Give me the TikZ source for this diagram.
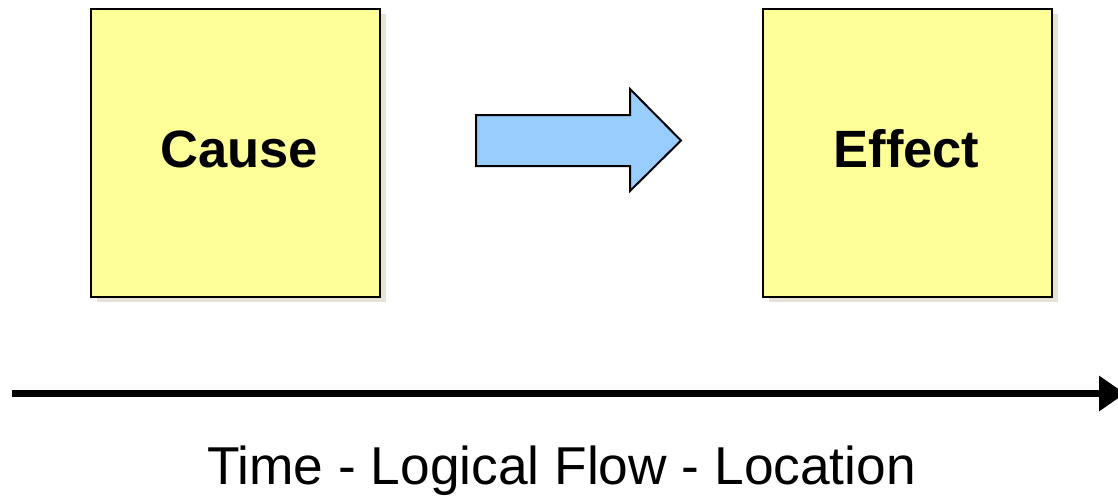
\documentclass[tikz,border=0pt]{standalone}
\usepackage{fontspec}
\setmainfont{Liberation Sans}
\usetikzlibrary{arrows.meta}
\definecolor{notey}{HTML}{FFFF99}
\definecolor{noteshadow}{HTML}{E6E2D8}
\definecolor{flowblue}{HTML}{99CCFF}
\tikzset{
  notebox/.style={draw=black, line width=2pt, fill=notey, minimum width=289pt, minimum height=288pt, inner sep=0pt},
  shadowbox/.style={fill=noteshadow, draw=none, minimum width=289pt, minimum height=288pt, inner sep=0pt},
  boxlabel/.style={anchor=base, inner sep=0pt, font=\fontsize{52.5}{60}\selectfont\bfseries},
  flowarrow/.style={draw=black, line width=2pt, fill=flowblue, line join=miter},
  timeline/.style={line width=7pt, -{Triangle[length=26pt,width=34pt]}},
  timelabel/.style={font=\fontsize{53.3}{60}\selectfont, inner sep=0pt, anchor=base}
}
\begin{document}
\begin{tikzpicture}[x=1pt,y=-1pt]
\useasboundingbox (0,0) rectangle (1118,496);
% shadows
\node[shadowbox] (cs) at (241.5,158) {};
\node[shadowbox] (es) at (913.5,158) {};
% boxes
\node[notebox] (cause) at (235.5,153) {};
\node[notebox] (effect) at (907.5,153) {};
\node[boxlabel] (causet) at (239,167) {Cause};
\node[boxlabel] (effectt) at (906.5,167) {Effect};
% block arrow
\draw[flowarrow] (476,115) -- (630,115) -- (630,89) -- (681,140.5) -- (630,191) -- (630,166) -- (476,166) -- cycle;
% time line
\coordinate (tstart) at (12,393.5);
\coordinate (tend) at (1125,393.5);
\draw[timeline] (tstart) -- (tend);
\node[timelabel] (tl) at (561.5,484.5) {Time - Logical Flow - Location};
\end{tikzpicture}
\end{document}
